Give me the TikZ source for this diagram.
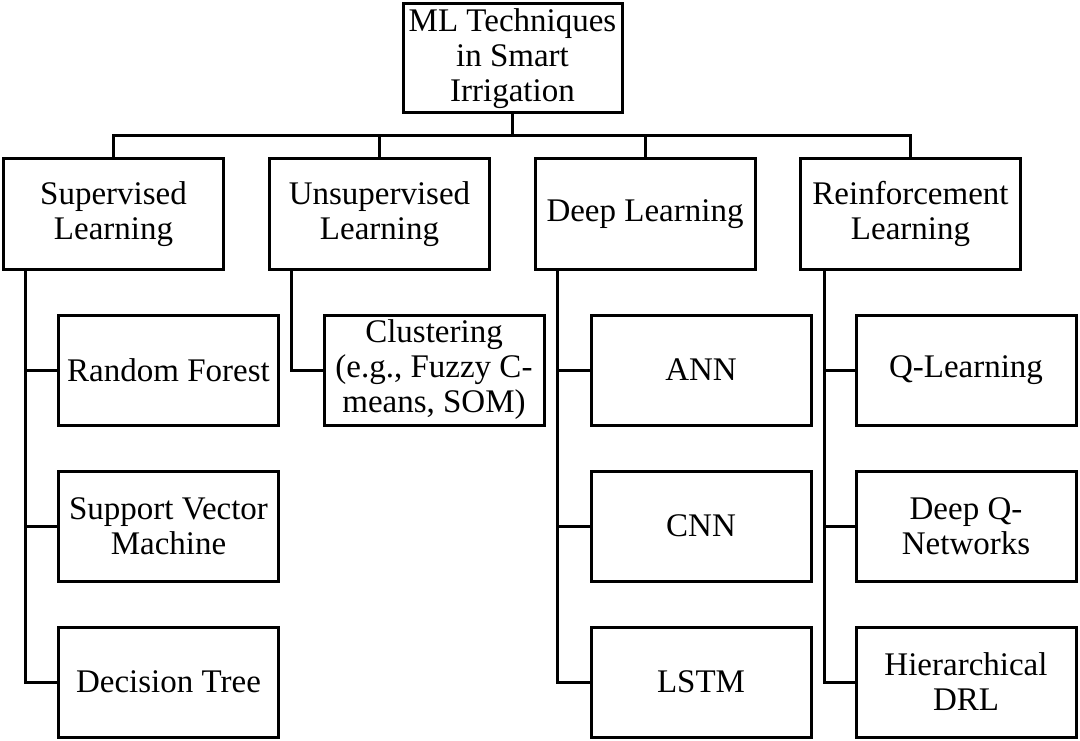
\documentclass[tikz,border=0pt]{standalone}
\usepackage{fontspec}
\setmainfont{Liberation Serif}
\begin{document}
\begin{tikzpicture}[x=1pt,y=-1pt,
  box/.style={draw=black,line width=3pt,fill=white,rectangle,minimum width=220pt,minimum height=110pt,align=center,inner sep=0pt,font=\fontsize{33}{35}\selectfont},
  link/.style={draw=black,line width=3pt}]
\fill[white] (0,0) rectangle (1080,741);
\useasboundingbox (0,0) rectangle (1080,741);
\node[box,minimum width=219pt,minimum height=109pt] (root) at (512.5,58.5) {ML Techniques\\in Smart\\Irrigation};
\node[box] (sup) at (113.5,214) {Supervised\\Learning};
\node[box] (uns) at (379.5,214) {Unsupervised\\Learning};
\node[box] (deep) at (645,214) {Deep Learning};
\node[box] (rl) at (910.5,214) {Reinforcement\\Learning};
\node[box] (rf) at (168.5,370) {Random Forest};
\node[box] (svm) at (168.5,526) {Support Vector\\Machine};
\node[box] (dt) at (168.5,682) {Decision Tree};
\node[box] (clu) at (434,370) {Clustering\\(e.g., Fuzzy C-\\means, SOM)};
\node[box] (ann) at (701,370) {ANN};
\node[box] (cnn) at (701,526) {CNN};
\node[box] (lstm) at (701,682) {LSTM};
\node[box] (ql) at (966,370) {Q-Learning};
\node[box] (dqn) at (966,526) {Deep Q-\\Networks};
\node[box] (hdrl) at (966,682) {Hierarchical\\DRL};
\coordinate (bus) at (512.5,136);
\draw[link] (root.south) -- (bus);
\draw[link] (sup.north) |- (bus) -| (rl.north);
\draw[link] (uns.north) -- (uns.north |- bus);
\draw[link] (deep.north) -- (deep.north |- bus);
\coordinate (ts) at ([xshift=-88.5pt]sup.south);
\coordinate (tu) at ([xshift=-88.5pt]uns.south);
\coordinate (td) at ([xshift=-88pt]deep.south);
\coordinate (tr) at ([xshift=-86.5pt]rl.south);
\draw[link] (ts) |- (dt.west);
\draw[link] (ts) |- (rf.west);
\draw[link] (ts) |- (svm.west);
\draw[link] (tu) |- (clu.west);
\draw[link] (td) |- (lstm.west);
\draw[link] (td) |- (ann.west);
\draw[link] (td) |- (cnn.west);
\draw[link] (tr) |- (hdrl.west);
\draw[link] (tr) |- (ql.west);
\draw[link] (tr) |- (dqn.west);
\end{tikzpicture}
\end{document}
